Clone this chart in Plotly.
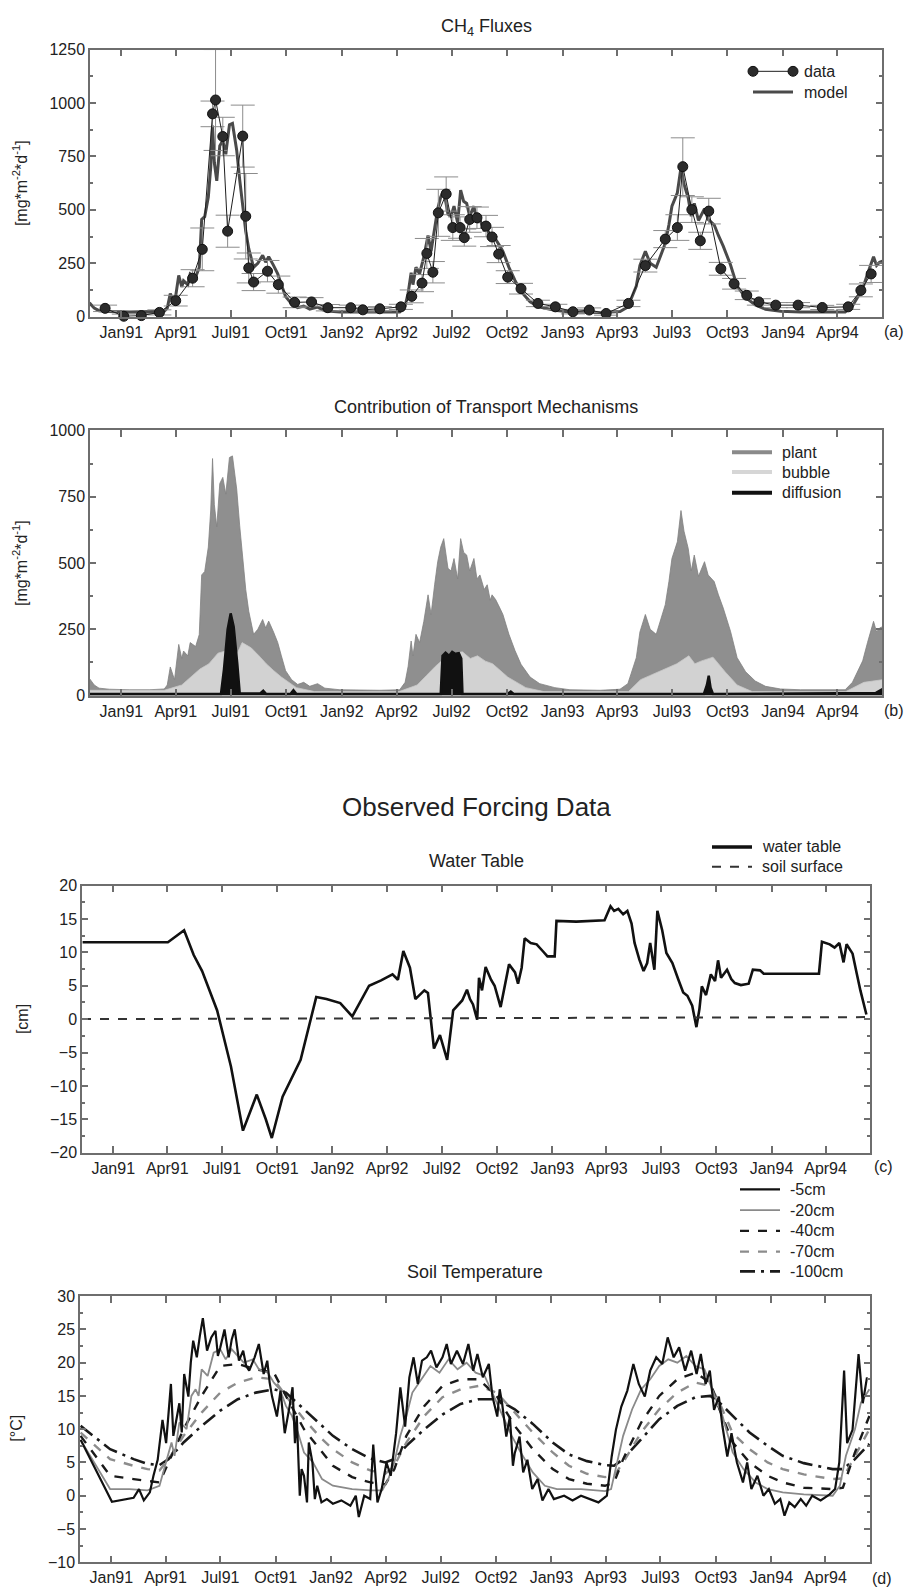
import pandas as pd
import plotly.graph_objects as go

# ---------------------------------------------------------------- data
# time is given as days since 1 Jan 1991
DAY0 = pd.Timestamp("1991-01-01")

# (a) observed CH4 flux with measurement error
flux_day = [-27, 4, 33, 63, 90, 118, 134, 151, 156, 168, 176, 201, 206, 211, 219, 242,
            260, 287, 315, 342, 380, 400, 428, 463, 481, 498, 506, 516, 525, 538, 549,
            561, 568, 577, 589, 604, 614, 625, 640, 662, 690, 719, 748, 775, 803, 840,
            868, 901, 921, 930, 945, 959, 973, 993, 1015, 1036, 1056, 1084, 1121, 1161,
            1204, 1225, 1242]
flux_obs = [39, 2, 5, 20, 75, 180, 315, 949, 1014, 843, 400, 845, 470, 228, 162, 213,
            150, 67, 69, 42, 42, 32, 37, 46, 95, 157, 296, 208, 486, 574, 417,
            417, 370, 455, 463, 424, 373, 293, 185, 131, 62, 46, 23, 31, 15, 62,
            239, 363, 417, 702, 501, 355, 494, 224, 154, 100, 69, 54, 54, 43,
            46, 123, 200]
flux_err = [15, 10, 10, 12, 25, 40, 100, 60, 236, 90, 75, 145, 200, 70, 40, 50,
            40, 25, 20, 15, 12, 10, 10, 12, 30, 40, 70, 50, 110, 80, 60,
            50, 40, 60, 50, 50, 45, 40, 30, 25, 15, 12, 10, 10, 8, 15,
            30, 40, 60, 135, 60, 40, 60, 30, 25, 20, 15, 12, 12, 10,
            12, 30, 40]

# (a)/(b) modelled total flux (top of the plant-transport area)
model_day = [-53, -45, -37, -20, 13, 46, 71, 76, 81, 88, 95, 100, 103, 110, 114, 123,
             129, 133, 138, 144, 148, 151, 154, 158, 163, 168, 173, 174, 179, 184, 191,
             196, 201, 206, 211, 219, 226, 234, 239, 244, 252, 259, 265, 272, 282, 292,
             302, 312, 325, 337, 362, 428, 461, 470, 475, 480, 483, 488, 494, 501, 508,
             513, 519, 524, 529, 534, 541, 546, 551, 557, 562, 567, 572, 577, 584, 589,
             594, 601, 606, 611, 614, 620, 627, 632, 642, 652, 662, 677, 693, 718, 743,
             793, 826, 839, 853, 859, 868, 876, 886, 893, 901, 907, 912, 921, 927, 932,
             939, 944, 949, 956, 961, 966, 972, 982, 989, 997, 1009, 1020, 1034, 1050,
             1067, 1092, 1125, 1199, 1211, 1221, 1228, 1236, 1246, 1251, 1256, 1261]
model_flux = [65, 40, 28, 24, 22, 22, 25, 40, 108, 60, 193, 140, 168, 150, 200, 185,
              230, 455, 468, 560, 700, 894, 720, 636, 800, 823, 760, 786, 898, 904, 779,
              640, 511, 400, 318, 231, 250, 287, 255, 281, 240, 200, 150, 94, 60, 42,
              50, 35, 45, 28, 22, 20, 22, 50, 110, 206, 150, 231, 200, 280, 380,
              306, 420, 505, 560, 592, 480, 470, 517, 440, 592, 540, 530, 470, 517, 440,
              455, 400, 418, 360, 380, 362, 330, 306, 231, 170, 118, 70, 45, 30, 22,
              20, 24, 45, 143, 240, 306, 250, 231, 280, 343, 430, 517, 580, 698, 620,
              555, 470, 530, 450, 480, 505, 455, 430, 380, 330, 243, 143, 90, 55,
              35, 25, 22, 22, 50, 100, 131, 200, 280, 240, 255, 260]

# (b) ebullition and diffusion components
bubble_day = [-53, 71, 100, 115, 130, 145, 160, 175, 190, 200, 215, 228, 240, 252, 265,
              290, 320, 460, 490, 505, 520, 535, 550, 565, 578, 590, 603, 615, 640, 670,
              700, 840, 860, 875, 890, 905, 920, 940, 950, 960, 980, 1000, 1020, 1045,
              1200, 1230, 1261]
bubble_flux = [20, 20, 40, 70, 100, 120, 160, 170, 150, 200, 180, 150, 120, 95, 70,
               30, 15, 15, 40, 75, 110, 140, 160, 165, 140, 150, 130, 120, 70, 30,
               15, 15, 60, 75, 90, 105, 120, 150, 120, 130, 145, 90, 40, 15,
               15, 50, 60]
diff_day = [-53, 165, 170, 176, 181, 186, 192, 196, 230, 235, 240, 280, 285, 290, 529,
            532, 537, 543, 548, 553, 559, 563, 565, 640, 645, 650, 965, 970, 973, 976, 980,
            1250, 1261]
diff_flux = [6, 6, 100, 250, 310, 260, 120, 8, 8, 18, 6, 6, 20, 6, 6,
             150, 162, 150, 165, 158, 160, 140, 6, 6, 15, 6, 6, 40, 75, 30, 6,
             10, 25]

# (c) water table [cm]
wt_day = [-51, 91, 118, 134, 148, 173, 196, 216, 239, 254, 264, 282, 312, 338, 355, 378,
          398, 426, 446, 465, 474, 483, 494, 503, 518, 524, 534, 544, 556, 566, 581, 589,
          594, 599, 606, 609, 614, 620, 629, 635, 645, 652, 659, 669, 674, 680, 685, 695,
          705, 715, 723, 735, 738, 771, 795, 818, 828, 834, 841, 849, 856, 863, 868, 876,
          883, 889, 894, 901, 906, 914, 921, 931, 941, 949, 956, 964, 971, 976, 980, 987,
          995, 1002, 1007, 1012, 1022, 1029, 1035, 1045, 1058, 1065, 1077, 1083, 1175,
          1180, 1193, 1201, 1209, 1216, 1221, 1231, 1238, 1244, 1254]
wt_cm = [11.5, 11.5, 13.3, 9.6, 7.2, 1.3, -7.1, -16.7, -11.3, -15.0, -17.8, -11.6, -6.1,
         3.3, 3.0, 2.4, 0.4, 5.0, 5.8, 6.7, 5.9, 10.2, 7.7, 3.0, 4.3, 3.9, -4.4, -2.4, -6.1,
         1.3, 2.8, 4.4, 3.0, 2.2, -0.1, 6.2, 4.3, 7.8, 5.9, 5.0, 1.8, 5.3, 8.2, 7.0, 5.3,
         7.7, 12.1, 11.4, 11.2, 10.2, 9.4, 9.4, 14.7, 14.6, 14.7, 14.8, 16.9, 16.2, 16.5,
         15.7, 16.2, 14.3, 11.4, 8.9, 7.2, 8.4, 11.4, 7.4, 16.2, 13.3, 9.9, 8.4, 5.9, 4.0,
         3.5, 2.0, -1.2, 1.5, 4.9, 3.6, 6.7, 5.7, 8.8, 6.2, 7.4, 6.0, 5.4, 5.1, 5.3, 7.4,
         7.3, 6.8, 6.8, 11.6, 11.2, 10.7, 11.4, 8.5, 11.2, 9.8, 6.8, 4.3, 0.7]
surface_day = [-52, 1259]
surface_cm = [0.0, 0.3]

# (d) soil temperature [degC] at five depths
t5_day = [-51, 1, 37, 46, 54, 64, 70, 77, 85, 91, 99, 103, 106, 113, 117, 121, 128, 132,
          136, 142, 147, 152, 159, 166, 173, 177, 181, 188, 195, 200, 205, 212, 219, 224,
          229, 238, 245, 253, 259, 263, 267, 275, 281, 288, 296, 301, 305, 308, 313, 316,
          320, 325, 328, 334, 338, 342, 349, 358, 368, 382, 397, 406, 411, 420, 430, 435,
          442, 449, 457, 464, 473, 480, 488, 495, 502, 509, 516, 524, 531, 540, 550, 557,
          564, 574, 584, 593, 601, 608, 617, 627, 633, 641, 645, 649, 656, 662, 667, 670,
          678, 684, 691, 699, 708, 716, 726, 735, 752, 766, 780, 795, 809, 823, 831, 838,
          847, 857, 867, 876, 886, 895, 905, 915, 924, 934, 943, 953, 963, 972, 979, 987,
          994, 1001, 1009, 1015, 1023, 1030, 1039, 1049, 1056, 1063, 1073, 1083, 1092, 1102,
          1111, 1118, 1126, 1135, 1145, 1154, 1164, 1178, 1193, 1202, 1209, 1217, 1222,
          1231, 1241, 1248, 1255]
t5_c = [8.4, -0.9, -0.3, 1.0, -0.7, 0.5, 3.0, 5.4, 11.4, 7.9, 16.8, 9.0, 10.4, 13.9, 9.5,
        18.3, 14.9, 20.0, 23.3, 20.8, 24.0, 26.7, 21.8, 23.8, 24.8, 21.0, 22.3, 25.0, 20.8,
        23.5, 25.0, 20.3, 21.8, 19.5, 18.8, 20.8, 22.8, 18.3, 20.3, 17.0, 14.9, 11.9, 15.8,
        9.4, 13.4, 16.3, 7.9, 12.0, 0.0, 4.0, 3.0, -1.0, 8.0, 5.0, -0.5, 1.5, -1.0, -0.5,
        -1.2, -0.7, -1.5, 0.0, -3.2, 0.0, -0.5, 7.7, -1.0, 1.0, 5.0, 3.0, 9.4, 16.3, 10.4,
        17.8, 20.8, 16.8, 20.3, 20.8, 21.8, 19.3, 20.8, 22.8, 19.8, 21.8, 19.8, 22.8, 18.8,
        21.3, 17.8, 19.8, 14.9, 11.9, 16.0, 13.9, 8.9, 11.9, 4.5, 6.4, 8.9, 3.5, 5.4, 1.0,
        2.5, -0.7, 1.0, -0.5, 0.0, -0.7, 0.0, -0.5, -1.0, 0.0, 5.9, 9.9, 13.4, 15.8, 19.8,
        16.8, 14.9, 18.8, 20.8, 19.8, 23.8, 20.8, 22.3, 18.8, 21.8, 18.3, 21.3, 16.8, 18.8,
        12.9, 14.9, 10.4, 5.9, 9.4, 5.0, 2.0, 5.0, 1.0, 3.0, 0.0, 1.0, -1.2, -0.5, -3.0,
        -1.0, -1.7, -0.5, -1.5, 0.0, -0.7, 0.2, 1.0, 5.0, 18.8, 7.9, 9.9, 21.3, 13.9, 17.8]

t20_day = [-51, -2, 30, 60, 80, 88, 95, 100, 105, 113, 120, 125, 133, 140, 145, 150, 160,
           170, 181, 190, 200, 210, 220, 235, 245, 260, 270, 280, 290, 300, 310, 320, 335,
           350, 368, 400, 430, 450, 460, 470, 480, 490, 500, 515, 530, 545, 560, 575, 590,
           605, 620, 635, 650, 665, 680, 700, 720, 740, 780, 820, 830, 840, 850, 865, 880,
           895, 910, 925, 940, 955, 970, 985, 1000, 1015, 1032, 1050, 1070, 1090, 1115,
           1150, 1198, 1210, 1220, 1235, 1245, 1259]
t20_c = [8.4, 1.0, 1.0, 0.8, 1.5, 4.0, 6.5, 8.0, 6.0, 11.0, 10.5, 10.0, 15.0, 16.0, 15.0,
         19.0, 18.0, 21.5, 22.0, 20.5, 22.0, 21.0, 20.0, 20.5, 19.0, 18.5, 17.0, 16.0, 13.5,
         12.0, 9.5, 6.5, 5.0, 2.5, 1.5, 1.0, 0.8, 0.8, 2.5, 5.0, 9.0, 12.0, 15.5, 17.5,
         19.5, 18.5, 20.5, 19.0, 20.0, 18.5, 18.0, 15.0, 12.0, 9.0, 6.5, 3.5, 1.5, 1.0,
         1.0, 0.7, 1.0, 5.0, 9.0, 13.0, 16.0, 17.5, 19.5, 20.5, 20.0, 21.0, 19.5, 19.0,
         15.5, 12.0, 6.5, 4.0, 2.0, 1.0, 0.5, 0.2, 0.0, 1.5, 6.0, 10.0, 14.0, 16.0]

deep_day = [-51, -2, 37, 60, 80, 95, 120, 150, 181, 210, 240, 270, 290, 320, 350, 368,
            400, 430, 455, 470, 490, 520, 550, 580, 610, 640, 670, 700, 733, 760, 790,
            820, 835, 850, 880, 910, 940, 970, 995, 1010, 1032, 1060, 1090, 1115, 1150,
            1198, 1215, 1235, 1259]
t40_c = [9.0, 3.0, 2.5, 2.2, 2.0, 5.0, 10.0, 15.0, 19.5, 19.8, 19.0, 18.5, 15.0, 10.0,
         6.5, 4.5, 2.8, 2.0, 1.7, 4.0, 9.0, 13.5, 16.5, 17.5, 17.5, 15.0, 10.5, 7.0, 4.0,
         2.5, 1.8, 1.5, 2.0, 5.5, 11.0, 15.0, 17.5, 18.5, 17.0, 13.0, 8.0, 5.0, 3.0, 2.0,
         1.2, 1.0, 1.2, 6.5, 12.0]
t70_c = [9.5, 5.5, 4.5, 4.0, 3.8, 5.5, 9.0, 12.5, 15.5, 17.0, 17.8, 17.5, 15.0, 11.5,
         8.5, 7.0, 5.0, 3.8, 3.3, 4.5, 8.0, 12.0, 14.8, 16.0, 16.5, 15.5, 12.5, 9.5, 6.5,
         4.5, 3.3, 2.8, 3.0, 5.0, 9.5, 13.0, 15.5, 17.0, 16.5, 14.0, 9.4, 7.0, 5.0, 4.0,
         3.2, 2.5, 2.6, 6.0, 10.0]
t100_c = [10.5, 7.0, 5.5, 4.8, 4.6, 5.5, 8.0, 10.5, 12.8, 14.5, 15.5, 16.0, 15.5, 13.0,
          10.5, 9.0, 7.0, 5.6, 5.0, 5.5, 7.5, 10.0, 12.2, 13.8, 14.5, 14.5, 13.0, 10.8,
          8.0, 6.2, 5.2, 4.6, 4.5, 5.5, 8.5, 11.5, 13.5, 14.8, 15.0, 14.0, 12.0, 9.5, 7.5,
          6.0, 4.9, 4.0, 4.0, 5.5, 7.8]

# axis tick labels
tick_day = [0, 90, 181, 273, 365, 456, 547, 639, 731, 821, 912, 1004, 1096, 1186]
tick_text = ["Jan91", "Apr91", "Jul91", "Oct91", "Jan92", "Apr92", "Jul92", "Oct92",
             "Jan93", "Apr93", "Jul93", "Oct93", "Jan94", "Apr94"]
x_span_day = [-52, 1260]


def dates(days):
    return DAY0 + pd.to_timedelta(days, unit="D")


# ---------------------------------------------------------------- styles
W, H = 907, 1596
FONT = "Liberation Sans, Arial, Helvetica, sans-serif"
INK = "#222222"
AXIS = "#6e6e6e"

MODEL_LINE = dict(color="#4a4a4a", width=3)
DATA_LINE = dict(color="#1e1e1e", width=1)
DATA_MARK = dict(size=10, color="#2b2b2b", line=dict(color="#111", width=1))
PLANT_C, BUBBLE_C, DIFF_C = "#8f8f8f", "#d2d2d2", "#111111"
WT_LINE = dict(color="#111111", width=2.6)
SURF_LINE = dict(color="#333333", width=2, dash="dash")
T_LINES = {
    "-5cm": dict(color="#111111", width=2.2),
    "-20cm": dict(color="#8a8a8a", width=1.8),
    "-40cm": dict(color="#1a1a1a", width=2.4, dash="dash"),
    "-70cm": dict(color="#8c8c8c", width=2.4, dash="dash"),
    "-100cm": dict(color="#1a1a1a", width=2.6, dash="longdashdot"),
}


def px_x(v):
    return v / W


def px_y(v):
    return 1 - v / H


fig = go.Figure()

# (a) CH4 fluxes
fig.add_trace(go.Scatter(x=dates(model_day), y=model_flux, mode="lines", name="model",
                         line=MODEL_LINE, xaxis="x", yaxis="y"))
fig.add_trace(go.Scatter(
    x=dates(flux_day), y=flux_obs, mode="lines+markers", name="data",
    line=DATA_LINE, marker=DATA_MARK,
    error_y=dict(type="data", array=flux_err, color="#8c8c8c", thickness=1, width=12),
    cliponaxis=False, xaxis="x", yaxis="y"))

# (b) transport pathways
fig.add_trace(go.Scatter(x=dates(model_day), y=model_flux, mode="lines", fill="tozeroy",
                         name="plant", fillcolor=PLANT_C,
                         line=dict(color="#808080", width=0.8), xaxis="x2", yaxis="y2"))
fig.add_trace(go.Scatter(x=dates(bubble_day), y=bubble_flux, mode="lines", fill="tozeroy",
                         name="bubble", fillcolor=BUBBLE_C,
                         line=dict(color="#c8c8c8", width=0.8), xaxis="x2", yaxis="y2"))
fig.add_trace(go.Scatter(x=dates(diff_day), y=diff_flux, mode="lines", fill="tozeroy",
                         name="diffusion", fillcolor=DIFF_C,
                         line=dict(color=DIFF_C, width=2.5), xaxis="x2", yaxis="y2"))

# (c) water table
fig.add_trace(go.Scatter(x=dates(wt_day), y=wt_cm, mode="lines", name="water table",
                         line=WT_LINE, xaxis="x3", yaxis="y3"))
fig.add_trace(go.Scatter(x=dates(surface_day), y=surface_cm, mode="lines",
                         name="soil surface", line=SURF_LINE, xaxis="x3", yaxis="y3"))

# (d) soil temperature, deepest layer drawn first
for name, day, val in [("-100cm", deep_day, t100_c), ("-70cm", deep_day, t70_c),
                       ("-40cm", deep_day, t40_c), ("-20cm", t20_day, t20_c),
                       ("-5cm", t5_day, t5_c)]:
    fig.add_trace(go.Scatter(x=dates(day), y=val, mode="lines", name=name,
                             line=T_LINES[name], xaxis="x4", yaxis="y4"))

# ---------------------------------------------------------------- axes
tick_font = dict(family=FONT, size=16, color=INK)
x_range = list(dates(x_span_day))


def xaxis(left, right, anchor):
    return dict(domain=[px_x(left), px_x(right)], anchor=anchor, type="date",
                range=x_range, tickmode="array", tickvals=list(dates(tick_day)),
                ticktext=tick_text, ticks="inside", ticklen=7, tickwidth=1.5,
                tickcolor=AXIS, showline=True, linecolor=AXIS, linewidth=1.5,
                mirror="ticks", showgrid=False, zeroline=False, tickfont=tick_font)


def yaxis(top, bottom, anchor, rng, dtick):
    return dict(domain=[px_y(bottom), px_y(top)], anchor=anchor, range=rng,
                dtick=dtick, tick0=0, ticks="inside", ticklen=6, tickwidth=1.5,
                tickcolor=AXIS, showline=True, linecolor=AXIS, linewidth=1.5,
                mirror="ticks", showgrid=False, zeroline=False, tickfont=tick_font,
                minor=dict(ticks="inside", ticklen=3, dtick=dtick / 2, tickcolor=AXIS,
                           showgrid=False))


fig.update_layout(
    xaxis=xaxis(90, 882, "y"), yaxis=yaxis(42, 312, "x", [0, 1250], 250),
    xaxis2=xaxis(90, 882, "y2"), yaxis2=yaxis(427, 695, "x2", [0, 1000], 250),
    xaxis3=xaxis(82, 870, "y3"), yaxis3=yaxis(887, 1157, "x3", [-20, 20], 5),
    xaxis4=xaxis(80, 870, "y4"), yaxis4=yaxis(1302, 1571, "x4", [-10, 30], 5),
)

# ---------------------------------------------------------------- legend keys
shapes = []
notes = []


def key_line(x0, x1, y, style):
    shapes.append(dict(type="line", xref="paper", yref="paper", x0=px_x(x0), x1=px_x(x1),
                       y0=px_y(y), y1=px_y(y),
                       line=dict(color=style["color"], width=style.get("width", 2),
                                 dash=style.get("dash", "solid"))))


def key_dot(x, y):
    r = 5
    shapes.append(dict(type="circle", xref="paper", yref="paper",
                       x0=px_x(x - r), x1=px_x(x + r), y0=px_y(y + r), y1=px_y(y - r),
                       fillcolor=DATA_MARK["color"], line=dict(color="#111", width=1)))


def key_text(x, y, text):
    notes.append((text, x, y, 16, 0, "left"))


# (a)
key_line(753, 793, 64, DATA_LINE)
key_dot(753, 64)
key_dot(793, 64)
key_text(802, 64, "data")
key_line(753, 793, 85, MODEL_LINE)
key_text(802, 85, "model")
# (b)
for y, name, col in [(449, "plant", "#8a8a8a"), (469, "bubble", "#d6d6d6"),
                     (490, "diffusion", "#111111")]:
    key_line(732, 772, y, dict(color=col, width=4))
    key_text(780, y, name)
# (c)
key_line(712, 752, 848, dict(WT_LINE, width=3.5))
key_text(760, 848, "water table")
key_line(712, 752, 868, SURF_LINE)
key_text(760, 868, "soil surface")
# (d)
for y, name in zip([1194, 1215, 1236, 1257, 1277], ["-5cm", "-20cm", "-40cm", "-70cm", "-100cm"]):
    key_line(740, 780, y, T_LINES[name])
    key_text(788, y, name)

# ---------------------------------------------------------------- titles and labels
notes += [
    ("CH<sub>4</sub> Fluxes", 486, 20, 18, 0, "center"),
    ("Contribution of Transport Mechanisms", 486, 403, 18, 0, "center"),
    ("Observed Forcing Data", 476, 808, 26, 0, "center"),
    ("Water Table", 476, 862, 18, 0, "center"),
    ("Soil Temperature", 475, 1278, 18, 0, "center"),
    ("(a)", 894, 327, 16, 0, "center"),
    ("(b)", 894, 710, 16, 0, "center"),
    ("(c)", 883, 1171, 16, 0, "center"),
    ("(d)", 882, 1587, 16, 0, "center"),
    ("[mg*m<sup>-2</sup>*d<sup>-1</sup>]", 20, 177, 16, -90, "center"),
    ("[mg*m<sup>-2</sup>*d<sup>-1</sup>]", 20, 561, 16, -90, "center"),
    ("[cm]", 22, 1022, 16, -90, "center"),
    ("[°C]", 17, 1436, 16, -90, "center"),
]
for text, x, y, size, angle, anchor in notes:
    fig.add_annotation(text=text, x=px_x(x), y=px_y(y), xref="paper", yref="paper",
                       showarrow=False, textangle=angle, xanchor=anchor,
                       yanchor="middle", font=dict(family=FONT, size=size, color=INK))

fig.update_layout(
    width=W, height=H, margin=dict(l=0, r=0, t=0, b=0), shapes=shapes,
    paper_bgcolor="white", plot_bgcolor="white", showlegend=False,
    font=dict(family=FONT, size=16, color=INK),
)

fig.write_html("out.html")
